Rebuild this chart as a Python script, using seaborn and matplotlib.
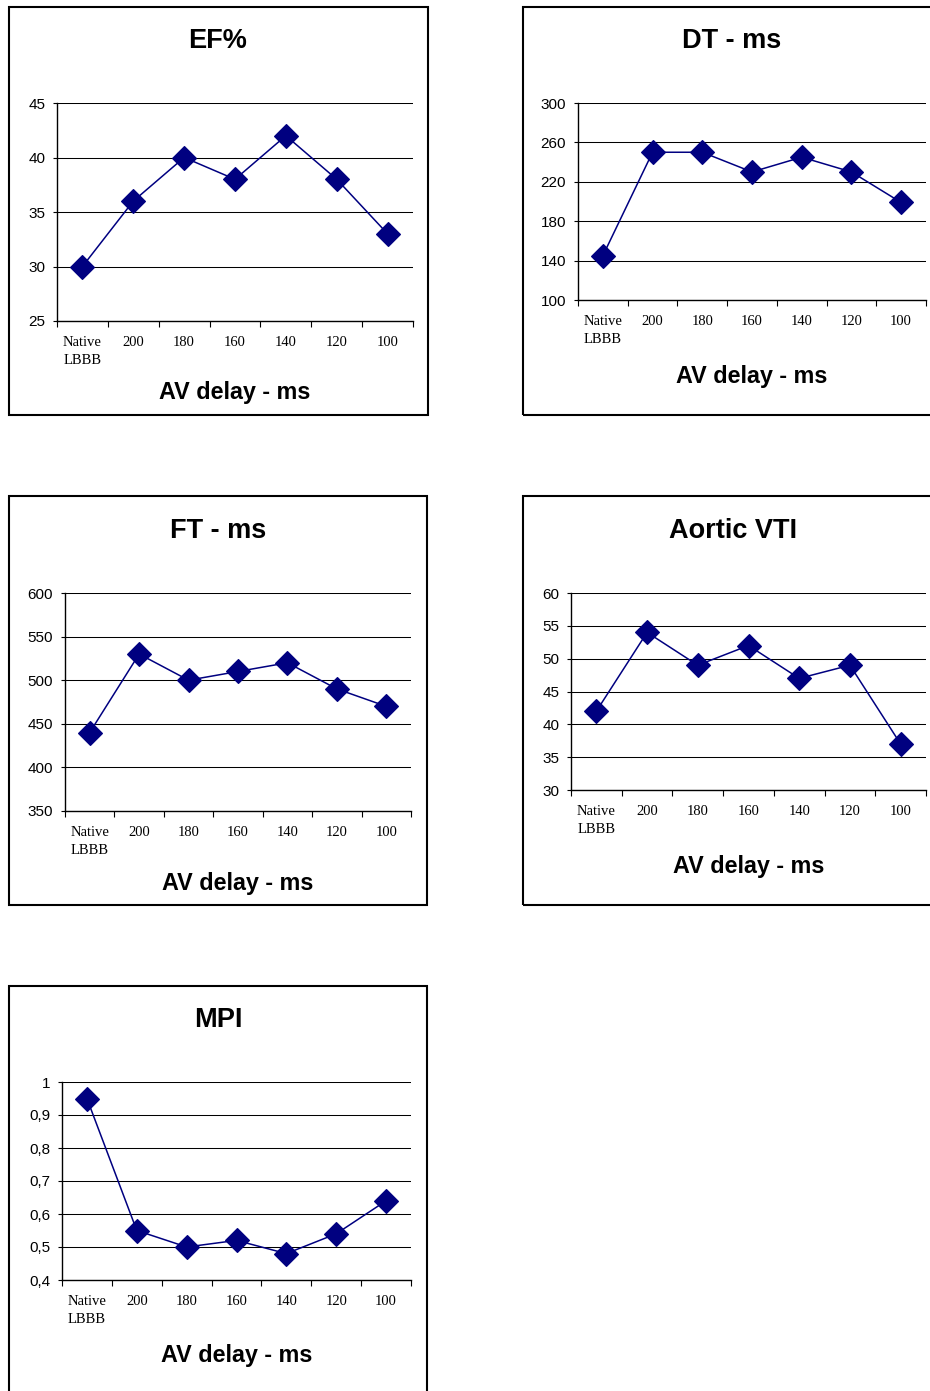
import numpy as np
import matplotlib
matplotlib.use("Agg")
import matplotlib.pyplot as plt
from matplotlib.patches import Rectangle
from matplotlib.ticker import FuncFormatter
import seaborn as sns

# categories on the x axis (AV delay)
delays = ["Native\nLBBB", "200", "180", "160", "140", "120", "100"]

# series values
ef = [30, 36, 40, 38, 42, 38, 33]
dt = [145, 250, 250, 230, 245, 230, 199]
ft = [440, 530, 500, 510, 520, 490, 470]
vti = [42, 54, 49, 52, 47, 49, 37]
mpi = [0.95, 0.55, 0.50, 0.52, 0.48, 0.54, 0.64]

titles = ["EF%", "DT - ms", "FT - ms", "Aortic VTI", "MPI"]
xlabel = "AV delay - ms"

ef_ticks = [25, 30, 35, 40, 45]
dt_ticks = [100, 140, 180, 220, 260, 300]
ft_ticks = [350, 400, 450, 500, 550, 600]
vti_ticks = [30, 35, 40, 45, 50, 55, 60]
mpi_ticks = [0.4, 0.5, 0.6, 0.7, 0.8, 0.9, 1.0]

W, H = 930, 1391
NAVY = "#000080"

sns.set_theme(style="white")
plt.rcParams["font.family"] = ["Liberation Sans", "DejaVu Sans"]
plt.rcParams.update({"text.color": "black", "axes.labelcolor": "black",
                     "xtick.color": "black", "ytick.color": "black"})

fig = plt.figure(figsize=(W / 100, H / 100), dpi=100)
fig.patch.set_facecolor("white")


def rect(l, t, r, b):
    return [l / W, 1 - b / H, (r - l) / W, (b - t) / H]


# box (l, t, r, b), axes (l, t, r, b), title baseline, xlabel baseline
panels = [
    (ef, ef_ticks, (9, 7, 428, 415), (57, 103, 413, 321), 48, 399),
    (dt, dt_ticks, (523, 7, 945, 415), (578, 103, 926, 300), 48, 383),
    (ft, ft_ticks, (9, 496, 427, 905), (65, 593, 411, 811), 538, 890),
    (vti, vti_ticks, (523, 496, 945, 905), (571, 593, 926, 790), 538, 873),
    (mpi, mpi_ticks, (9, 986, 427, 1405), (62, 1082, 411, 1280), 1027, 1362),
]
title_x = [218, 732, 218, 733, 218]

for (vals, yt, box, axr, ty, ly), title, tx in zip(panels, titles, title_x):
    bl, bt, br, bb = box
    fig.patches.append(Rectangle((bl / W, 1 - bb / H), (br - bl) / W, (bb - bt) / H,
                                 transform=fig.transFigure, fill=False,
                                 edgecolor="black", linewidth=1.5, zorder=0))
    ax = fig.add_axes(rect(*axr))
    ax.set_facecolor("none")
    sns.pointplot(x=delays, y=vals, ax=ax, color=NAVY, markers="D",
                  markersize=12, linewidth=1.1, errorbar=None)

    ## y axis with gridlines
    ax.set_ylim(yt[0], yt[-1])
    ax.set_yticks(yt)
    ax.yaxis.grid(True, color="black", linewidth=0.75)
    ax.set_axisbelow(True)
    if title == "MPI":
        ax.yaxis.set_major_formatter(FuncFormatter(
            lambda v, p: "1" if abs(v - 1) < 1e-9 else f"{v:.1f}".replace(".", ",")))
    ax.tick_params(axis="y", which="major", length=3, width=0.8, pad=5.5,
                   direction="out", labelsize=11, colors="black", left=True)

    ## x axis: labels at centres, ticks between categories
    ax.set_xlim(-0.5, len(delays) - 0.5)
    ax.set_xticks(range(len(delays)))
    ax.set_xticklabels(delays, fontfamily="Liberation Serif", fontsize=10.5,
                       linespacing=1.5, multialignment="center")
    ax.set_xticks(np.arange(-0.5, len(delays), 1.0), minor=True)
    ax.tick_params(axis="x", which="major", length=0, pad=11, colors="black")
    ax.tick_params(axis="x", which="minor", length=4, width=0.8,
                   direction="out", color="black", bottom=True)
    ax.set_xlabel("")
    ax.set_ylabel("")

    for s in ["top", "right"]:
        ax.spines[s].set_visible(False)
    for s in ["left", "bottom"]:
        ax.spines[s].set_color("black")
        ax.spines[s].set_linewidth(1.0)

    ## title and axis label
    fig.text(tx / W, 1 - ty / H, title, ha="center", va="baseline",
             fontsize=19.5, fontweight="bold")
    fig.text((axr[0] + axr[2]) / 2 / W, 1 - ly / H, xlabel,
             ha="center", va="baseline", fontsize=16.8, fontweight="bold")

fig.savefig("out.png", dpi=100, facecolor="white")
